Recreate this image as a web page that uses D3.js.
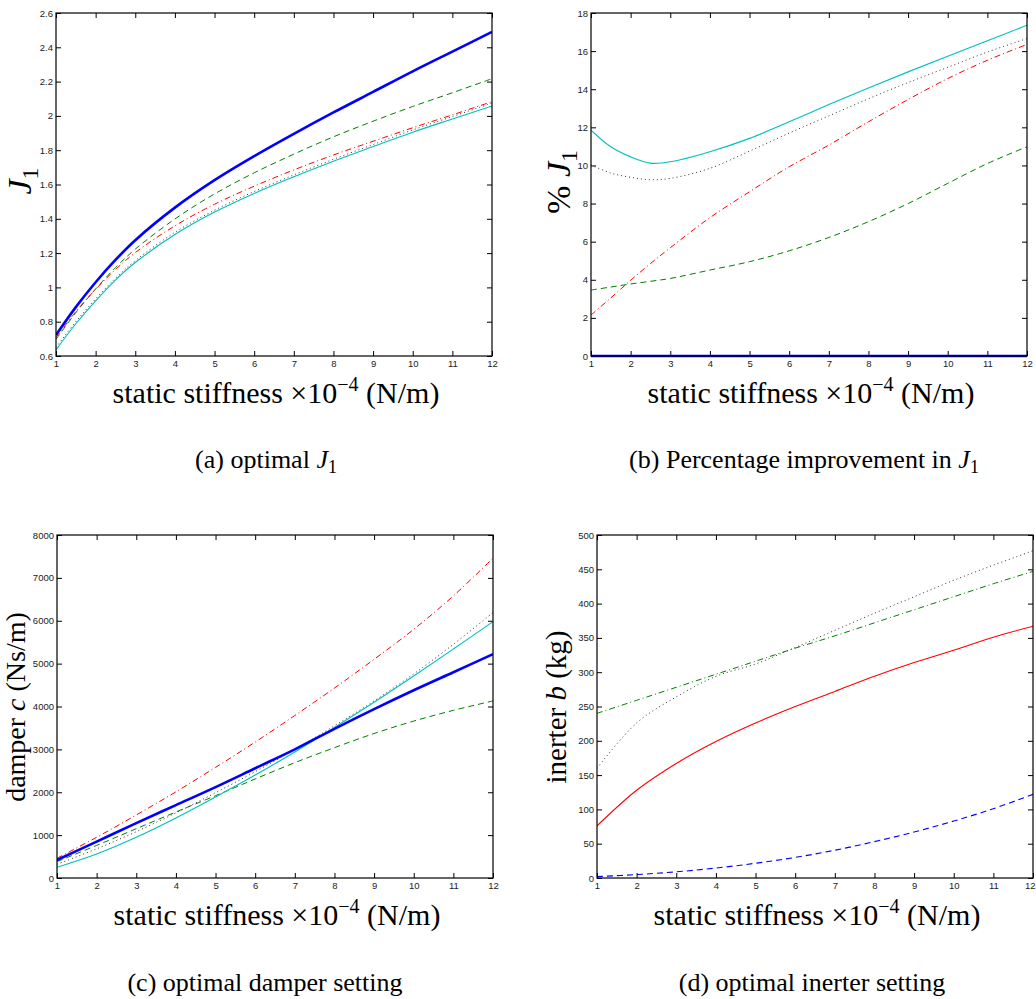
<!DOCTYPE html>
<html><head><meta charset="utf-8">
<script src="https://cdn.jsdelivr.net/npm/d3@7"></script>
<style>
html,body{margin:0;padding:0;background:#fff;}
svg{display:block;}
</style></head>
<body>
<svg id="chart" width="1036" height="999"></svg>
<script>
// ---------- DATA ----------
const stiffnessAB = [1, 1.5, 2, 2.5, 3, 4, 5, 6, 7, 8, 9, 10, 11, 12];
const stiffnessCD = [1, 2, 3, 4, 5, 6, 7, 8, 9, 10, 11, 12];
const xTicks = [1,2,3,4,5,6,7,8,9,10,11,12];

// (a) optimal J1
const j1Blue   = [0.722, 0.885, 1.03, 1.16, 1.275, 1.465, 1.625, 1.765, 1.895, 2.02, 2.14, 2.26, 2.375, 2.49];
const j1Green  = [0.697, 0.853, 0.991, 1.115, 1.223, 1.399, 1.545, 1.668, 1.777, 1.878, 1.969, 2.055, 2.135, 2.217];
const j1Red    = [0.707, 0.858, 0.989, 1.104, 1.203, 1.359, 1.485, 1.590, 1.685, 1.772, 1.852, 1.931, 2.006, 2.083];
const j1Dotted = [0.650, 0.800, 0.933, 1.053, 1.156, 1.321, 1.450, 1.559, 1.656, 1.747, 1.833, 1.918, 1.996, 2.075];
const j1Cyan   = [0.636, 0.788, 0.922, 1.043, 1.145, 1.308, 1.439, 1.548, 1.645, 1.736, 1.821, 1.905, 1.982, 2.058];
const j1Ticks  = [0.6, 0.8, 1, 1.2, 1.4, 1.6, 1.8, 2, 2.2, 2.4, 2.6];

// (b) percentage improvement in J1
const pctBlue   = [0, 0, 0, 0, 0, 0, 0, 0, 0, 0, 0, 0, 0, 0];
const pctGreen  = [3.46, 3.62, 3.78, 3.92, 4.07, 4.51, 4.95, 5.52, 6.22, 7.05, 8.0, 9.06, 10.1, 10.98];
const pctRed    = [2.15, 3.05, 3.97, 4.85, 5.68, 7.26, 8.62, 9.93, 11.07, 12.29, 13.46, 14.56, 15.52, 16.35];
const pctDotted = [10.02, 9.6, 9.38, 9.25, 9.32, 9.85, 10.75, 11.7, 12.6, 13.5, 14.35, 15.15, 15.95, 16.66];
const pctCyan   = [11.85, 10.98, 10.45, 10.12, 10.19, 10.72, 11.42, 12.29, 13.2, 14.07, 14.91, 15.73, 16.54, 17.36];
const pctTicks  = [0, 2, 4, 6, 8, 10, 12, 14, 16, 18];

// (c) optimal damper setting
const cBlue   = [420, 850, 1280, 1700, 2120, 2560, 3000, 3480, 3940, 4380, 4800, 5220];
const cGreen  = [381, 760, 1150, 1540, 1920, 2310, 2690, 3040, 3370, 3660, 3910, 4130];
const cRed    = [460, 950, 1470, 2010, 2580, 3170, 3790, 4430, 5100, 5800, 6580, 7460];
const cDotted = [320, 680, 1080, 1520, 1990, 2480, 3000, 3550, 4130, 4760, 5450, 6190];
const cCyan   = [250, 560, 950, 1400, 1890, 2400, 2940, 3510, 4100, 4710, 5340, 5980];
const cTicks  = [0, 1000, 2000, 3000, 4000, 5000, 6000, 7000, 8000];

// (d) optimal inerter setting
const bGreen  = [240, 259, 278, 297, 316, 335, 353, 372, 391, 410, 429, 447];
const bDotted = [160, 226, 264, 294, 312, 336, 361, 386, 410, 434, 456, 477];
const bRed    = [76, 128, 167, 199, 226, 250, 272, 294, 314, 332, 351, 367];
const bBlue   = [2, 5, 9, 14.5, 21.5, 30, 40.5, 53, 67, 83, 101, 122];
const bTicks  = [0, 50, 100, 150, 200, 250, 300, 350, 400, 450, 500];

// ---------- STYLES ----------
const ST = {
  blueThick: {color:"#0000ff", width:2.6, dash:null},
  green:     {color:"#008000", width:1, dash:"6,4"},
  red:       {color:"#ff0000", width:1, dash:"6,3,1,3"},
  dotted:    {color:"#333333", width:1, dash:"1,3"},
  cyan:      {color:"#00bfbf", width:1.1, dash:null},
  redSolid:  {color:"#ff0000", width:1.1, dash:null},
  greenDD:   {color:"#008000", width:1, dash:"6,3,1,3"},
  blueDash:  {color:"#0000ff", width:1.1, dash:"6,4"}
};

const svg = d3.select("#chart");
const SERIF = "'Liberation Serif','Times New Roman',serif";
const SANS = "'Liberation Sans',Arial,sans-serif";

function fmt(v){ return String(+v.toFixed(2)); }

function panel(cfg){
  const x = d3.scaleLinear().domain([1,12]).range([cfg.left, cfg.right]);
  const y = d3.scaleLinear().domain(cfg.yDomain).range([cfg.bottom, cfg.top]);
  const g = svg.append("g");
  const tl = 5;
  const ax = (a, tr, labels) => {
    const s = g.append("g").attr("transform", tr).call(a);
    s.select(".domain").remove();
    s.selectAll("line").attr("stroke","#000").attr("stroke-width",1);
    s.selectAll("text").attr("font-family",SANS).attr("font-size",9.5).attr("fill","#222");
    if(!labels) s.selectAll("text").remove();
    return s;
  };
  const xb = ax(d3.axisBottom(x).tickValues(xTicks).tickSizeInner(-tl).tickSizeOuter(0).tickPadding(4).tickFormat(d3.format("d")), `translate(0,${cfg.bottom})`, true);
  // keep the last x tick label inside the page when the plot touches the right edge
  xb.selectAll("text").filter(d => d === 12 && x(12) + 6 > 1036).attr("text-anchor","end").attr("dx", 1036 - x(12) - 1);
  ax(d3.axisTop(x).tickValues(xTicks).tickSizeInner(-tl).tickSizeOuter(0), `translate(0,${cfg.top})`, false);
  ax(d3.axisLeft(y).tickValues(cfg.yTicks).tickSizeInner(-tl).tickSizeOuter(0).tickPadding(3).tickFormat(fmt), `translate(${cfg.left},0)`, true);
  ax(d3.axisRight(y).tickValues(cfg.yTicks).tickSizeInner(-tl).tickSizeOuter(0), `translate(${cfg.right},0)`, false);

  const clipId = "clip" + cfg.id;
  svg.append("clipPath").attr("id", clipId).append("rect")
    .attr("x", cfg.left).attr("y", cfg.top - 2).attr("width", cfg.right - cfg.left).attr("height", cfg.bottom - cfg.top + 4);
  const line = d3.line().x(d => x(d[0])).y(d => y(d[1])).curve(d3.curveCatmullRom.alpha(0.5));
  const lg = g.append("g").attr("clip-path", `url(#${clipId})`);
  cfg.series.forEach(s => {
    const pts = cfg.xs.map((xv,i) => [xv, s.values[i]]);
    lg.append("path").attr("d", line(pts)).attr("fill","none")
      .attr("stroke", s.style.color).attr("stroke-width", s.style.width)
      .attr("stroke-dasharray", s.style.dash).attr("stroke-linejoin","round");
  });
  g.append("rect").attr("x", cfg.left).attr("y", cfg.top)
    .attr("width", cfg.right - cfg.left).attr("height", cfg.bottom - cfg.top)
    .attr("fill","none").attr("stroke","#000").attr("stroke-width",1.2);

  // x label
  const cx = (cfg.left + cfg.right) / 2 + 2;
  const xl = g.append("text").attr("x", cx).attr("y", cfg.bottom + 47)
    .attr("text-anchor","middle").attr("font-family",SERIF).attr("font-size",30).attr("fill","#000");
  xl.append("tspan").text("static stiffness \u00d710");
  xl.append("tspan").attr("font-size",20).attr("dy",-12).text("\u22124");
  xl.append("tspan").attr("dy",12).text(" (N/m)");

  // y label
  const yl = g.append("text").attr("transform", `translate(${cfg.yLabelX},${cfg.yLabelY}) rotate(-90)`)
    .attr("text-anchor","middle").attr("font-family",SERIF).attr("font-size",cfg.yLabelSize).attr("fill","#000");
  cfg.yLabel.forEach(p => {
    const t = yl.append("tspan").text(p.t);
    if(p.i) t.attr("font-style","italic");
    if(p.sub) t.attr("font-size", cfg.yLabelSize*0.7).attr("dy", cfg.yLabelSize*0.22);
    if(p.fs) t.attr("font-size", p.fs);
  });

  // caption
  const cap = g.append("text").attr("x", cfg.capX).attr("y", cfg.capY)
    .attr("text-anchor","middle").attr("font-family",SERIF).attr("font-size",26).attr("fill","#000");
  cfg.caption.forEach(p => {
    const t = cap.append("tspan").text(p.t);
    if(p.i) t.attr("font-style","italic");
    if(p.sub) t.attr("font-size",18).attr("dy",5);
  });
}

panel({id:"a", left:56, right:492, top:13, bottom:356, yDomain:[0.6,2.6], yTicks:j1Ticks, xs:stiffnessAB,
  series:[{values:j1Green,style:ST.green},{values:j1Red,style:ST.red},{values:j1Dotted,style:ST.dotted},
          {values:j1Cyan,style:ST.cyan},{values:j1Blue,style:ST.blueThick}],
  yLabel:[{t:"J",i:true},{t:"1",sub:true}], yLabelSize:34, yLabelX:31, yLabelY:181,
  caption:[{t:"(a) optimal "},{t:"J",i:true},{t:"1",sub:true}], capX:266, capY:468});

panel({id:"b", left:591, right:1027, top:13, bottom:356, yDomain:[0,18], yTicks:pctTicks, xs:stiffnessAB,
  series:[{values:pctGreen,style:ST.green},{values:pctRed,style:ST.red},{values:pctDotted,style:ST.dotted},
          {values:pctCyan,style:ST.cyan},{values:pctBlue,style:ST.blueThick}],
  yLabel:[{t:"% ",fs:34},{t:"J",i:true},{t:"1",sub:true}], yLabelSize:34, yLabelX:570, yLabelY:182,
  caption:[{t:"(b) Percentage improvement in "},{t:"J",i:true},{t:"1",sub:true}], capX:804, capY:468});

panel({id:"c", left:57, right:493, top:535, bottom:878, yDomain:[0,8000], yTicks:cTicks, xs:stiffnessCD,
  series:[{values:cGreen,style:ST.green},{values:cRed,style:ST.red},{values:cDotted,style:ST.dotted},
          {values:cCyan,style:ST.cyan},{values:cBlue,style:ST.blueThick}],
  yLabel:[{t:"damper "},{t:"c",i:true},{t:" (Ns/m)"}], yLabelSize:28, yLabelX:25, yLabelY:707,
  caption:[{t:"(c) optimal damper setting"}], capX:265, capY:991});

panel({id:"d", left:597, right:1033, top:535, bottom:878, yDomain:[0,500], yTicks:bTicks, xs:stiffnessCD,
  series:[{values:bGreen,style:ST.greenDD},{values:bDotted,style:ST.dotted},
          {values:bRed,style:ST.redSolid},{values:bBlue,style:ST.blueDash}],
  yLabel:[{t:"inerter "},{t:"b",i:true},{t:" (kg)"}], yLabelSize:29, yLabelX:566, yLabelY:707,
  caption:[{t:"(d) optimal inerter setting"}], capX:812, capY:991});
</script>
</body></html>
